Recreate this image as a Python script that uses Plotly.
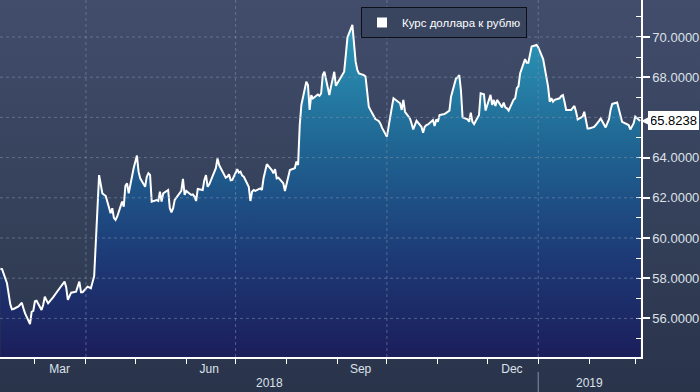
import pandas as pd
import plotly.graph_objects as go

# ---------------- data ----------------
SERIES_NAME = "Курс доллара к рублю"
START_DATE = "2018-02-08"
END_DATE = "2019-03-04"

rate_feb_may = [58.47, 58.45,
    57.75, 57.10, 56.70, 56.45, 56.47,
    56.60, 56.70, 56.78, 56.50, 56.25,
    55.72, 56.33, 56.38, 56.85, 56.88,
    56.42, 56.67, 57.08, 56.90, 56.75,
    57.05, 57.15, 57.25, 57.40, 57.50,
    57.83, 57.55, 56.92, 57.15, 57.28,
    57.33, 57.60, 57.83, 57.30, 57.30,
    57.58, 57.55, 57.50, 57.80, 58.10,
    63.13, 62.70, 62.22, 62.15, 62.10,
    61.23, 61.48, 61.00, 60.90, 61.06,
    61.81, 61.56, 62.60, 62.72, 62.22,
    63.47, 63.80, 64.10, 63.30, 62.97,
    62.55, 63.05, 63.22, 63.14, 61.81,
    61.89, 61.84, 62.30, 61.81, 62.22]

rate_may_aug = [
    62.39, 61.48, 61.28, 61.48, 61.90,
    62.22, 62.34, 62.94, 62.14, 62.34,
    62.14, 62.17, 62.06, 61.84, 62.44,
    62.39, 62.89, 63.13, 62.55, 62.67,
    63.22, 63.47, 63.96, 63.63, 63.47,
    63.00, 63.05, 63.17, 62.87, 62.89,
    63.42, 63.25, 63.30, 63.10, 63.05,
    62.55, 61.84, 62.30, 62.39, 62.34,
    62.47, 62.39, 62.97, 63.40, 63.67,
    63.38, 63.22, 63.43, 62.97, 63.00,
    62.72, 62.34, 62.72, 63.10, 63.38,
    63.47, 63.80, 63.63, 65.62, 66.62,
    67.78, 67.61, 66.37, 67.11, 66.94,
    67.14, 67.07, 67.19, 68.11, 68.27]

rate_aug_nov = [
    67.11, 67.53, 67.86, 68.27, 67.57,
    68.02, 68.18, 68.27, 69.10, 69.97,
    70.60, 69.44, 68.77, 68.36, 68.19,
    68.10, 68.03, 67.28, 66.53, 66.37,
    65.92, 65.87, 65.82, 65.70, 65.49,
    65.04, 65.60, 66.00, 66.50, 66.95,
    66.78, 66.70, 66.37, 66.87, 66.28,
    65.95, 65.70, 65.40, 65.62, 65.83,
    65.53, 65.24, 65.53, 65.62, 65.65,
    65.87, 65.57, 65.90, 65.78, 66.12,
    66.17, 66.24, 66.30, 66.34, 67.03,
    67.94, 67.99, 68.10, 67.36, 66.00,
    65.90, 65.78, 66.24, 65.78, 65.67,
    66.12, 67.20, 67.17, 67.15, 66.34]

rate_nov_mar = [
    67.12, 66.62, 66.87, 66.57, 66.87,
    66.50, 66.74, 66.50, 66.45, 66.34,
    66.87, 66.95, 67.45, 67.55, 68.19,
    68.90, 68.72, 68.72, 69.20, 69.52,
    69.60, 69.49, 69.30, 69.10, 68.90,
    67.53, 66.78, 66.95, 66.78, 66.87,
    66.95, 67.06, 67.11, 66.78, 66.37,
    66.37, 66.50, 66.57, 66.28, 65.90,
    66.04, 66.28, 65.87, 65.45, 65.45,
    65.53, 65.62, 65.70, 65.83, 65.95,
    65.50, 65.70, 65.90, 66.37, 66.67,
    66.74, 66.40, 66.12, 65.78, 65.74,
    65.62, 65.40, 65.57, 65.70, 66.04,
    65.8238]

month_tick_vals = ["2018-03-16", "2018-06-15", "2018-09-15", "2018-12-16"]
month_tick_text = ["Mar", "Jun", "Sep", "Dec"]
year_labels = ["2018", "2019"]
quarter_grid_dates = ["2018-04-01", "2018-07-01", "2018-10-01", "2019-01-01"]
value_grid = [56, 58, 60, 62, 64, 66, 68, 70]

# ---------------- build ----------------
rates = rate_feb_may + rate_may_aug + rate_aug_nov + rate_nov_mar
dates = pd.bdate_range(START_DATE, END_DATE)
assert len(dates) == len(rates), (len(dates), len(rates))

X_RANGE = [pd.Timestamp(START_DATE) - pd.Timedelta(hours=6),
           pd.Timestamp(END_DATE) + pd.Timedelta(hours=12)]
Y_RANGE = [54.08, 71.84]

# the last-value badge hides the tick label it sits on
y_tick_vals = [v for v in value_grid if abs(v - rates[-1]) > 0.6]

W, H = 700, 392
PLOT_RIGHT = 641 / W
PLOT_BOTTOM = 35 / H

FONT = "Liberation Sans, Arial, sans-serif"
TEXT_COLOR = "#dde2ea"
GRID_COLOR = "rgba(125,145,175,0.55)"

fig = go.Figure()

# background gradient (whole canvas)
fig.add_trace(go.Scatter(
    x=[0, 1, 1, 0, 0], y=[0, 0, 1, 1, 0], mode="lines", fill="toself",
    line=dict(width=0),
    fillgradient=dict(type="vertical",
                      colorscale=[[0, "#29344b"], [0.5, "#36415b"], [1, "#414d6b"]]),
    hoverinfo="skip", showlegend=False, xaxis="x", yaxis="y"))

# main area series
fig.add_trace(go.Scatter(
    x=dates, y=rates, mode="lines", name=SERIES_NAME,
    line=dict(color="white", width=2),
    fill="tozeroy",
    fillgradient=dict(type="vertical", start=Y_RANGE[0], stop=max(rates),
                      colorscale=[[0, "#1b1e5b"], [0.3, "#1d3a76"],
                                  [0.62, "#1f6391"], [1, "#2b98b8"]]),
    showlegend=False, hoverinfo="skip", xaxis="x2", yaxis="y2"))

# legend entry (white square)
fig.add_trace(go.Scatter(
    x=[None], y=[None], mode="markers", name=SERIES_NAME,
    marker=dict(symbol="square", size=10, color="white"),
    xaxis="x2", yaxis="y2"))

shapes = []
for v in value_grid:
    shapes.append(dict(type="line", xref="x2 domain", x0=0, x1=1, yref="y2", y0=v, y1=v,
                       line=dict(color=GRID_COLOR, width=1, dash="dot"), layer="above"))
for d in quarter_grid_dates:
    shapes.append(dict(type="line", xref="x2", x0=d, x1=d, yref="y2 domain", y0=0, y1=1,
                       line=dict(color=GRID_COLOR, width=1, dash="dot"), layer="above"))
# year separator on the axis band
shapes.append(dict(type="line", xref="x2", x0="2019-01-01", x1="2019-01-01",
                   yref="paper", y0=0, y1=20 / H,
                   line=dict(color="#8590a5", width=1)))

annotations = []
for yl in year_labels:
    lo = max(X_RANGE[0], pd.Timestamp(f"{yl}-01-01"))
    hi = min(X_RANGE[1], pd.Timestamp(f"{int(yl) + 1}-01-01"))
    annotations.append(dict(x=lo + (hi - lo) / 2, xref="x2", y=9 / H, yref="paper",
                            text=yl, showarrow=False, yanchor="middle",
                            font=dict(family=FONT, size=12, color=TEXT_COLOR)))
annotations.append(dict(
    x=1, xref="x2 domain", y=rates[-1], yref="y2", text=f"{rates[-1]:.4f}",
    showarrow=True, ax=32, ay=0, arrowhead=2, arrowsize=1, arrowwidth=2,
    arrowcolor="white", standoff=0, bgcolor="white", bordercolor="white",
    borderpad=1, font=dict(family=FONT, size=13, color="black")))

fig.update_layout(
    width=W, height=H, margin=dict(l=0, r=0, t=0, b=0),
    paper_bgcolor="#343f58", plot_bgcolor="rgba(0,0,0,0)",
    showlegend=True,
    xaxis=dict(domain=[0, 1], range=[0, 1], visible=False, fixedrange=True),
    yaxis=dict(domain=[0, 1], range=[0, 1], visible=False, fixedrange=True),
    xaxis2=dict(domain=[0, PLOT_RIGHT], anchor="y2", type="date", range=X_RANGE,
                tickmode="array", tickvals=month_tick_vals, ticktext=month_tick_text,
                ticks="", showgrid=False, zeroline=False,
                showline=True, linecolor="white", linewidth=1.5,
                tickfont=dict(family=FONT, size=12, color=TEXT_COLOR),
                minor=dict(ticks="outside", ticklen=5, tickwidth=1, tickcolor="white",
                           dtick="M1", tick0="2018-01-01", showgrid=False),
                automargin=False),
    yaxis2=dict(domain=[PLOT_BOTTOM, 1], anchor="x2", side="right", range=Y_RANGE,
                tickmode="array", tickvals=y_tick_vals, tickformat=".4f",
                ticks="outside", ticklen=7, tickwidth=1.5, tickcolor="white",
                showline=True, linecolor="white", linewidth=1.5,
                showgrid=False, zeroline=False,
                minor=dict(ticks="inside", ticklen=5, tickwidth=1, tickcolor="white",
                           dtick=1, tick0=0, showgrid=False),
                tickfont=dict(family=FONT, size=13, color=TEXT_COLOR),
                automargin=False),
    legend=dict(x=527 / W, xanchor="right", y=1 - 7 / H, yanchor="top",
                bgcolor="#39455f", bordercolor="#0d1117", borderwidth=1,
                font=dict(family=FONT, size=11.5, color="white"),
                itemwidth=30),
    shapes=shapes, annotations=annotations,
)

fig.write_html("out.html",
               config={"displayModeBar": False},
               post_script="document.body.style.margin='0px';document.body.style.background='#343f58';")
